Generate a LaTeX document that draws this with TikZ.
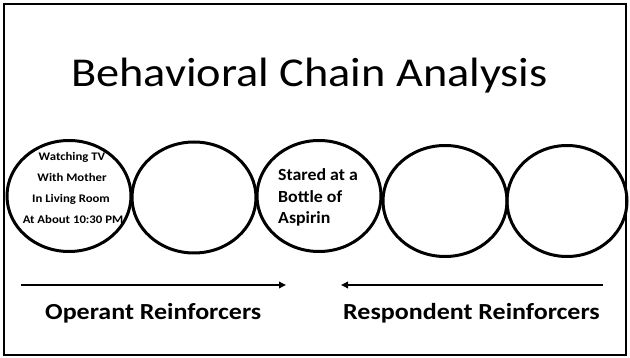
\documentclass[tikz,border=0pt]{standalone}
\usepackage{fontspec}
\setmainfont{Carlito}[BoldFont={Carlito Bold}]
\usetikzlibrary{arrows.meta,shapes.geometric}
\newcommand{\hstretch}[2]{\scalebox{#1}[1]{#2}}
\begin{document}
\begin{tikzpicture}[x=1pt,y=-1pt,
  link/.style={draw=black,line width=3pt,ellipse,inner sep=0pt,
    minimum width=124pt,minimum height=111pt},
  smalltxt/.style={anchor=base,inner sep=0pt,
    font=\bfseries\fontsize{11.6}{11.6}\selectfont},
  midtxt/.style={anchor=base west,inner sep=0pt,
    font=\bfseries\fontsize{17}{17}\selectfont},
  labeltxt/.style={anchor=base west,inner sep=0pt,
    font=\bfseries\fontsize{23}{23}\selectfont},
  flow/.style={line width=2.3pt,-{Triangle[length=7pt,width=6.5pt]}}]
\useasboundingbox (0,0) rectangle (630,358);
\draw[line width=2pt] (4,4) rectangle (626,355);
\node[anchor=base west,inner sep=0pt] (title) at (71,87)
  {\fontsize{41}{41}\selectfont\hstretch{1.13}{Behavioral Chain Analysis}};
% chain links
\node[link] (c1) at (69,196) {};
\node[link] (c2) at (194,197.5) {};
\node[link] (c3) at (319,196) {};
\node[link] (c4) at (445,201) {};
\node[link,minimum width=120pt] (c5) at (567,201) {};
% texts
\node[smalltxt] (t1a) at (72,160.5) {\hstretch{1.1}{Watching TV}};
\node[smalltxt] (t1b) at (72,181.5) {\hstretch{1.1}{With Mother}};
\node[smalltxt] (t1c) at (71,202.5) {\hstretch{1.1}{In Living Room}};
\node[smalltxt] (t1d) at (73,223.5) {\hstretch{1.1}{At About 10:30 PM}};
\node[midtxt] (t3a) at (278,180.7) {\hstretch{1.05}{Stared at a}};
\node[midtxt] (t3b) at (278,202.2) {\hstretch{1.05}{Bottle of}};
\node[midtxt] (t3c) at (278,223.5) {\hstretch{1.05}{Aspirin}};
% arrows
\coordinate (oa) at (21,285);
\coordinate (ob) at (286,285);
\coordinate (ra) at (603,285);
\coordinate (rb) at (341,285);
\draw[flow] (oa) -- (ob);
\draw[flow] (ra) -- (rb);
\node[labeltxt] (op) at (45,320) {\hstretch{1.13}{Operant Reinforcers}};
\node[labeltxt] (rp) at (343,320) {\hstretch{1.13}{Respondent Reinforcers}};
\end{tikzpicture}
\end{document}
